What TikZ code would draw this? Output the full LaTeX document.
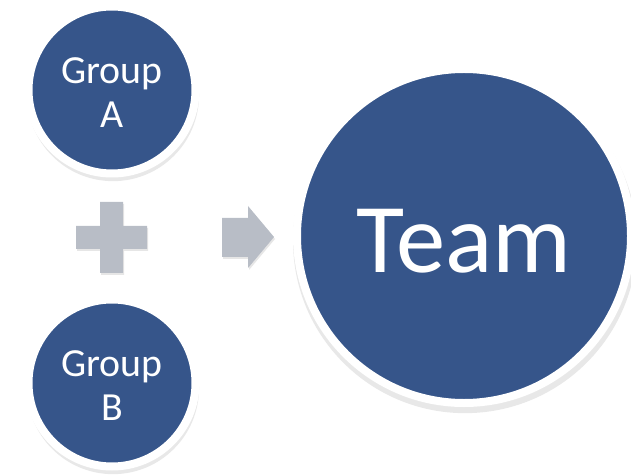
\documentclass[tikz,border=0pt]{standalone}
\usepackage{fontspec}
\setmainfont{Carlito}
\usetikzlibrary{shadows}
\definecolor{groupblue}{HTML}{36558A}
\definecolor{signgray}{HTML}{B8BDC6}
\begin{document}
\begin{tikzpicture}[x=1bp, y=-1bp, line join=round,
    ball/.style={circle, draw=white, line width=8bp, fill=groupblue, text=white, align=center, inner sep=0pt,
      drop shadow={opacity=0.18, shadow xshift=1bp, shadow yshift=-5bp, shadow scale=1.03}},
    sign/.style={fill=signgray, drop shadow={opacity=0.2, shadow xshift=1bp, shadow yshift=-2bp}}]
  \useasboundingbox (0,0) rectangle (631,475);
  \node[ball, minimum size=167bp, font=\fontsize{40}{44}\selectfont] (groupA) at (112,90) {\rule{0pt}{31bp}Group\\A};
  \node[ball, minimum size=167bp, font=\fontsize{40}{44}\selectfont] (groupB) at (112,383) {\rule{0pt}{31bp}Group\\B};
  \node[ball, minimum size=334bp, font=\fontsize{99}{99}\selectfont, text height=73bp, text depth=0bp] (team) at (464,236) {Team};
  % plus and arrow
  \fill[sign] (100,202) -- (123,202) -- (123,226) -- (147,226) -- (147,249) -- (123,249) -- (123,273)
    -- (100,273) -- (100,249) -- (76,249) -- (76,226) -- (100,226) -- cycle;
  \fill[sign] (222,218) -- (248,218) -- (248,206) -- (274,237) -- (248,268) -- (248,257) -- (222,257) -- cycle;
\end{tikzpicture}
\end{document}
